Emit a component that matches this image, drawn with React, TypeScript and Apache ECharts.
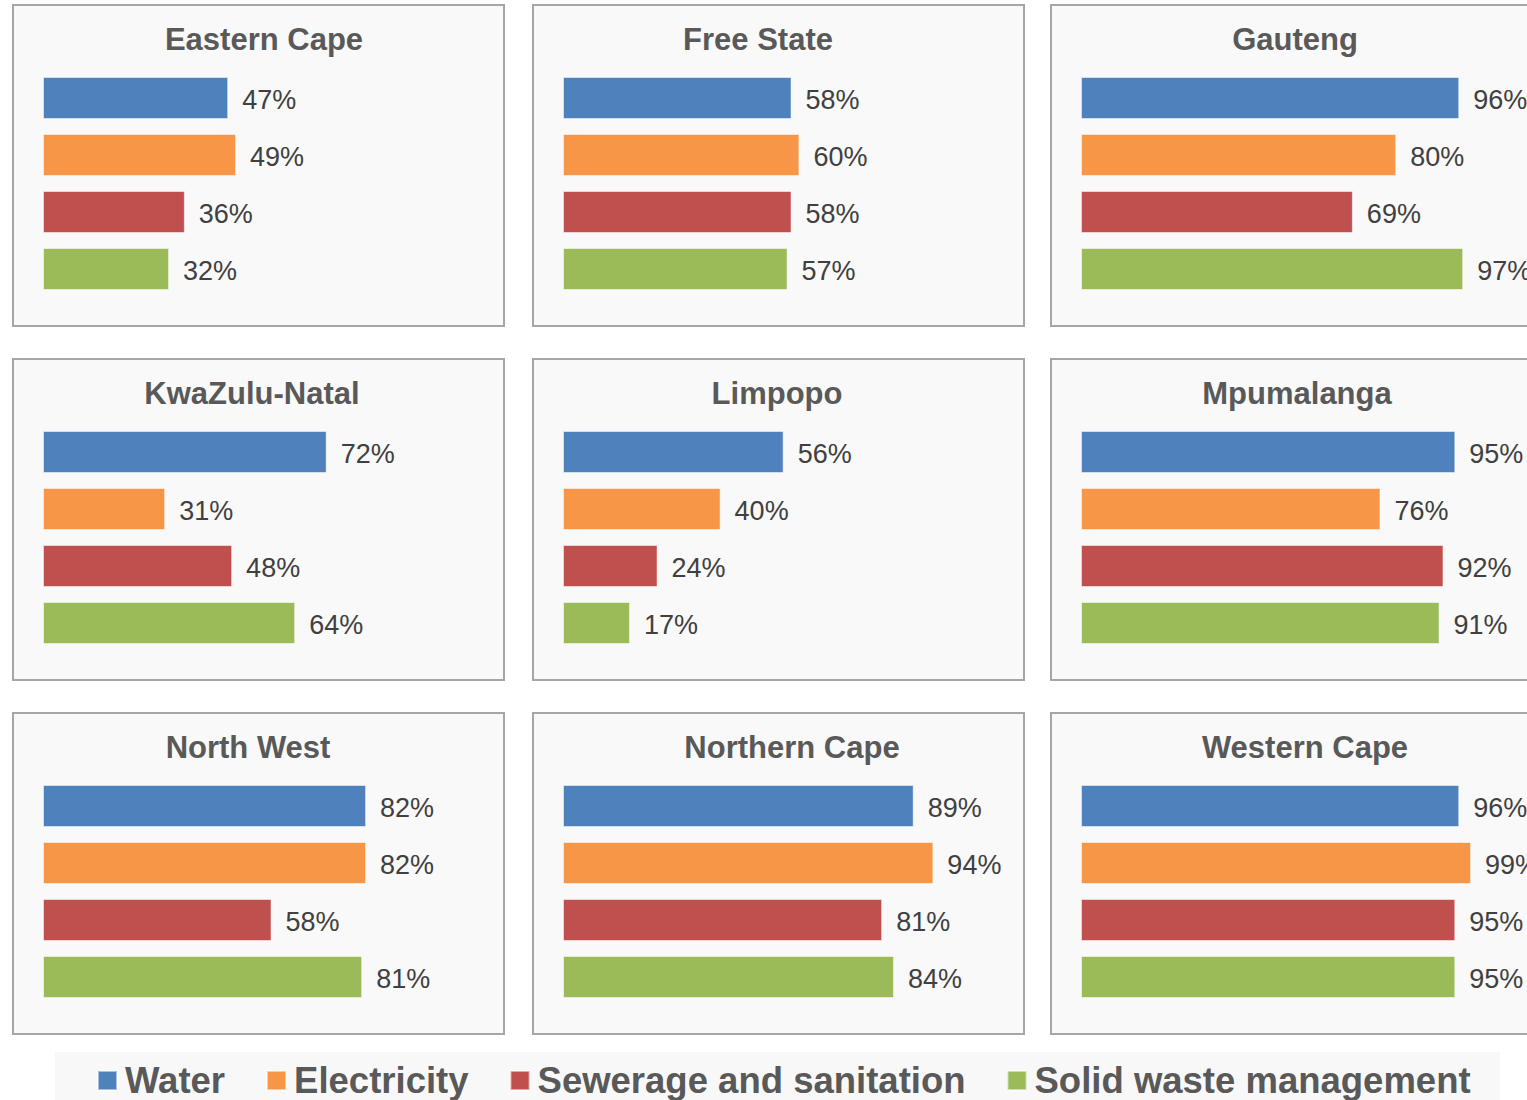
import React, { useEffect, useRef } from "react";
import * as echarts from "echarts";

const categories = ["Water", "Electricity", "Sewerage and sanitation", "Solid waste management"];
const provinces = [
  "Eastern Cape", "Free State", "Gauteng",
  "KwaZulu-Natal", "Limpopo", "Mpumalanga",
  "North West", "Northern Cape", "Western Cape",
];
const water = [47, 58, 96, 72, 56, 95, 82, 89, 96];
const electricity = [49, 60, 80, 31, 40, 76, 82, 94, 99];
const sewerage = [36, 58, 69, 48, 24, 92, 58, 81, 95];
const solidWaste = [32, 57, 97, 64, 17, 91, 81, 84, 95];

const seriesValues = [water, electricity, sewerage, solidWaste];
const colors = ["#4F81BD", "#F79646", "#C0504D", "#9BBB59"];

// layout
const panelLeft = [13, 533, 1051];
const panelTop = [5, 359, 713];
const panelW = 491;
const panelH = 321;
const titleCenterX = [264, 758, 1295, 252, 777, 1297, 248, 792, 1305];
const FONT = "'Liberation Sans', Arial, sans-serif";

export default function App() {
  const ref = useRef<HTMLDivElement>(null);
  useEffect(() => {
    if (!ref.current) return;
    const chart = echarts.init(ref.current, null, { renderer: "svg" });
    const grids: any[] = [];
    const xAxes: any[] = [];
    const yAxes: any[] = [];
    const series: any[] = [];
    const graphics: any[] = [];

    graphics.push({
      type: "rect",
      z: -10,
      shape: { x: 55, y: 1052, width: 1445, height: 60 },
      style: { fill: "#f8f8f8" },
    });

    provinces.forEach((p, i) => {
      const col = i % 3;
      const row = Math.floor(i / 3);
      const pl = panelLeft[col];
      const pt = panelTop[row];
      graphics.push({
        type: "rect",
        z: -10,
        shape: { x: pl, y: pt, width: panelW, height: panelH },
        style: { fill: "#f9f9f9", stroke: "#a6a6a6", lineWidth: 2 },
      });
      graphics.push({
        type: "text",
        z: 10,
        x: titleCenterX[i],
        y: pt + 34,
        style: {
          text: p,
          fontFamily: FONT,
          fontSize: 31,
          fontWeight: "bold",
          fill: "#595959",
          textAlign: "center",
          textVerticalAlign: "middle",
        },
      });
      grids.push({ left: pl + 30, top: pt + 64.5, width: 394, height: 228 });
      xAxes.push({ type: "value", gridIndex: i, min: 0, max: 100, show: false });
      yAxes.push({ type: "category", gridIndex: i, data: categories, inverse: true, show: false });
      categories.forEach((c, k) => {
        series.push({
          type: "bar",
          name: c,
          xAxisIndex: i,
          yAxisIndex: i,
          stack: "p" + i,
          barWidth: 42,
          data: categories.map((_, j) => (j === k ? seriesValues[k][i] : "-")),
          itemStyle: { color: colors[k], borderColor: "rgba(255,255,255,0.5)", borderWidth: 1 },
          label: {
            show: true,
            position: "right",
            distance: 14,
            offset: [0, 2],
            formatter: (pr: any) => pr.value + "%",
            fontFamily: FONT,
            fontSize: 27,
            color: "#404040",
          },
        });
      });
    });

    chart.setOption({
      animation: false,
      backgroundColor: "#ffffff",
      grid: grids,
      xAxis: xAxes,
      yAxis: yAxes,
      series,
      graphic: { elements: graphics },
      legend: {
        data: categories,
        left: 92,
        top: 1057,
        itemWidth: 19,
        itemHeight: 19,
        itemGap: 41,
        icon: "rect",
        selectedMode: false,
        textStyle: {
          fontFamily: FONT,
          fontSize: 36.5,
          fontWeight: "bold",
          color: "#595959",
          padding: [0, 0, 0, 3],
        },
      },
    });
    return () => chart.dispose();
  }, []);
  return (
    <div
      ref={ref}
      style={{ position: "absolute", left: 0, top: 0, width: 1527, height: 1100 }}
    />
  );
}
